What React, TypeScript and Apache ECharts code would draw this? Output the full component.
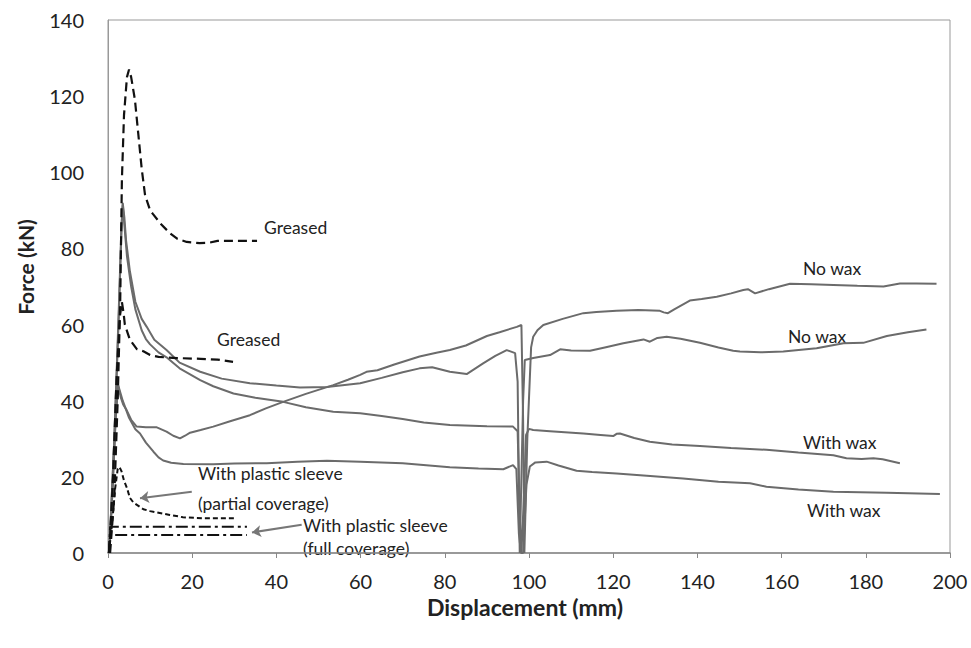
import React, { useEffect, useRef } from "react";
import * as echarts from "echarts";

// [displacement (mm), force (kN)]
const greasedHigh: number[][] = [
  [0.5, 0], [1.5, 15], [2.3, 40], [2.9, 66], [3.3, 98], [3.8, 115], [4.5, 125], [5, 127], [5.5, 125],
  [6.4, 119], [7.2, 110], [8, 101], [8.8, 94], [10, 90], [10.7, 89], [12.5, 86.5], [14.7, 84],
  [16.5, 82.5], [18.7, 81.7], [21.8, 81.4], [24, 81.5], [26, 82], [30, 82], [35.4, 82],
];
const greasedLow: number[][] = [
  [0.3, 0], [1.2, 20], [2, 45], [2.8, 62], [3.3, 66], [3.7, 63], [4, 60], [5.2, 56], [6.9, 53.5],
  [8.4, 53], [10, 52], [12, 51.5], [16.4, 51.2], [22, 51], [26, 50.8], [29.7, 50.2],
];
const sleevePartial: number[][] = [
  [0.2, 0], [1, 8], [1.7, 17], [2.3, 22], [2.7, 22.6], [3.2, 21.5], [3.8, 19], [4.5, 17.1], [5.2, 14.5],
  [6, 13.3], [8.4, 11.5], [10, 11], [14.7, 10], [17.8, 9.4], [22.6, 9.1], [30.2, 9.1],
];
const sleeveFullA: number[][] = [[0.2, 0], [0.5, 6.9], [33, 6.9]];
const sleeveFullB: number[][] = [[0.2, 0], [0.5, 4.7], [33, 4.7]];

const noWaxHigh: number[][] = [
  [0.3, 0], [1, 15], [1.8, 35], [2.4, 44.1], [3, 41], [3.6, 39], [4.4, 37.6], [5.5, 35], [6.8, 33.2],
  [9, 33], [11.6, 33], [13.9, 31.9], [15.5, 30.8], [17.1, 30.1], [18.3, 30.8], [19.5, 31.6], [22, 32.3],
  [25, 33.2], [29, 34.6], [33.7, 36.2], [37.5, 38], [41.6, 39.7], [47, 41.8], [53.5, 44.1], [57, 45.5],
  [59.9, 46.8], [61.4, 47.6], [64, 48], [68, 49.5], [74, 51.6], [78, 52.6], [81.2, 53.3], [85, 54.5],
  [90, 57], [93, 58], [97.1, 59.4], [98.2, 59.9], [98.6, 35], [98.9, 0], [99.6, 30], [100.5, 54],
  [101, 56.8], [102, 58.5], [103.4, 59.9], [108, 61.5], [112.9, 63], [116, 63.3], [120.8, 63.6],
  [126, 63.8], [131.1, 63.6], [132, 63.2], [133, 63], [134.5, 64], [138.2, 66.3], [141, 66.7],
  [144.6, 67.3], [148, 68.2], [150.9, 69.1], [152, 69.3], [153.7, 68.2], [157, 69.3], [162, 70.7],
  [167, 70.6], [172.3, 70.4], [178, 70.2], [184.2, 70], [188.1, 70.8], [192, 70.8], [196.8, 70.7],
];
const noWaxLow: number[][] = [
  [0.3, 0], [1.5, 30], [2.5, 60], [3.2, 85], [3.5, 92], [3.9, 88], [4.3, 82], [5.2, 74], [6.5, 66],
  [8, 61.5], [9.2, 59.4], [11, 56], [13.9, 53.3], [17, 50], [21.9, 47.6], [27, 45.8], [33.7, 44.6],
  [40, 44], [45.6, 43.5], [52, 43.6], [59.9, 44.6], [65, 46], [70, 47.5], [74, 48.5], [77, 48.8],
  [81.2, 47.6], [85.2, 47], [89.1, 49.8], [92, 51.8], [94.7, 53.3], [96.7, 52.5], [97.3, 45], [97.8, 0],
  [98.6, 40], [99, 50.7], [101, 51.2], [105, 52], [107.4, 53.5], [110, 53.2], [114.5, 53.1], [118, 54],
  [122.4, 55.1], [127.2, 56.1], [128.7, 55.5], [130.5, 56.5], [132.7, 56.8], [136, 56.3], [140.6, 55.2],
  [145, 54], [148.5, 53.1], [150.1, 52.9], [155, 52.7], [160.4, 52.9], [168.3, 53.8], [174.7, 55.1],
  [179.4, 55.2], [185, 57], [190, 58], [194.4, 58.7],
];
const withWaxHigh: number[][] = [
  [0.3, 0], [1.5, 30], [2.5, 62], [3.2, 86], [3.5, 91.5], [3.9, 86], [4.5, 78], [5.5, 70], [6.5, 64],
  [8, 58.5], [9, 56.2], [10, 54.8], [12, 52.7], [13.9, 51.4], [17, 48.5], [21.9, 45.4], [25, 43.8], [29.8, 41.9],
  [35, 40.8], [41.6, 39.7], [47, 38.3], [53.5, 37.1], [59.9, 36.7], [65, 36], [70, 35.2], [75, 34.3],
  [81.2, 33.6], [90, 33.3], [96.2, 33.2], [97.3, 32], [97.8, 10], [98.2, 0], [98.8, 15], [99.3, 31],
  [100, 32.6], [101, 32.3], [105, 32], [112.9, 31.4], [117, 31], [120, 30.7], [120.8, 31.3],
  [121.6, 31.4], [125, 30.2], [128.7, 29.2], [134, 28.5], [140.6, 28.1], [148, 27.6], [156.4, 27.1],
  [164, 26.4], [172.3, 25.7], [175.4, 24.9], [179, 24.7], [181.8, 24.9], [184, 24.6], [188.1, 23.6],
];
const withWaxLow: number[][] = [
  [0.3, 0], [1, 15], [1.8, 35], [2.4, 44.1], [3.5, 40], [5, 35.5], [6.5, 32.5], [7.6, 31.4], [9, 29],
  [10.8, 26.6], [12, 25.1], [13.1, 24.3], [15, 23.7], [17.9, 23.4], [25, 23.3], [30, 23.5], [37.7, 23.6],
  [45, 24], [52, 24.2], [59.9, 24], [70, 23.6], [81.2, 22.5], [88, 22.2], [93.9, 22], [96.2, 23.1],
  [97, 22], [97.6, 5], [98.1, 0], [98.6, 0], [99.4, 18], [100.2, 22.7], [101.5, 23.8], [104.2, 24],
  [107, 23], [111.3, 21.6], [115, 21.3], [120.8, 20.9], [128, 20.3], [136.6, 19.6], [145, 18.7],
  [152.5, 18.3], [156.4, 17.4], [164, 16.7], [172.3, 16.1], [185, 15.8], [197.6, 15.5],
];

// arrows [from, to]
const arrowPartial: number[][] = [[19.9, 16.1], [7.6, 14.4]];
const arrowFull: number[][] = [[46, 7.4], [34.2, 5.4]];

const xTicks = { min: 0, max: 200, interval: 20 };
const yTicks = { min: 0, max: 140, interval: 20 };

const FONT = "Lato, 'Open Sans', sans-serif";
const TXT = "#222";
const GREY = "#6b6b6b";

export default function App() {
  const ref = useRef<HTMLDivElement>(null);
  useEffect(() => {
    if (!ref.current) return;
    const chart = echarts.init(ref.current, undefined, { renderer: "svg" });
    const solid = (name: string, data: number[][]) => ({
      name, type: "line", data, showSymbol: false, symbol: "none", smooth: false, z: 2,
      lineStyle: { color: GREY, width: 2 },
    });
    const dashed = (name: string, data: number[][], type: any, width: number) => ({
      name, type: "line", data, showSymbol: false, symbol: "none", z: 3,
      lineStyle: { color: "#111", width, type },
    });
    const label = (text: string, x: number, y: number) => ({
      type: "text", x, y,
      style: { text, fill: TXT, font: `17.5px ${FONT}`, align: "left", verticalAlign: "middle" },
    });
    chart.setOption({
      animation: false,
      backgroundColor: "#fff",
      grid: { left: 108, right: 21, top: 20, bottom: 95, show: true, borderColor: "#999", borderWidth: 1 },
      xAxis: {
        type: "value", ...xTicks,
        axisLine: { show: true, lineStyle: { color: "#888", width: 1.5 } },
        axisTick: { show: true, inside: false, length: 5, lineStyle: { color: "#888" } },
        axisLabel: { color: TXT, fontSize: 20, fontFamily: FONT, margin: 18 },
        splitLine: { show: false },
      },
      yAxis: {
        type: "value", ...yTicks,
        axisLine: { show: true, lineStyle: { color: "#999" } },
        axisTick: { show: false },
        axisLabel: { color: TXT, fontSize: 20, fontFamily: FONT, margin: 24 },
        splitLine: { show: false },
      },
      series: [
        solid("No wax A", noWaxHigh),
        solid("No wax B", noWaxLow),
        solid("With wax A", withWaxHigh),
        solid("With wax B", withWaxLow),
        dashed("Greased A", greasedHigh, [9, 5], 2.2),
        dashed("Greased B", greasedLow, [9, 5], 2.2),
        dashed("Sleeve partial", sleevePartial, [5, 3], 2),
        dashed("Sleeve full A", sleeveFullA, [12, 4, 3, 4], 2),
        dashed("Sleeve full B", sleeveFullB, [12, 4, 3, 4], 2),
        {
          name: "arrows", type: "line", data: [], z: 4,
          markLine: {
            silent: true, symbol: ["none", "arrow"], symbolSize: 9,
            label: { show: false },
            lineStyle: { color: "#777", width: 2, type: "solid" },
            data: [
              [{ coord: arrowPartial[0] }, { coord: arrowPartial[1] }],
              [{ coord: arrowFull[0] }, { coord: arrowFull[1] }],
            ],
          },
        },
      ],
      graphic: [
        label("Greased", 264, 227),
        label("Greased", 217, 339),
        label("No wax", 803, 268),
        label("No wax", 788, 336),
        label("With wax", 803, 442),
        label("With wax", 807, 510),
        label("With plastic sleeve", 198, 473),
        label("(partial coverage)", 198, 503),
        label("With plastic sleeve", 303, 525),
        label("(full coverage)", 303, 548),
        {
          type: "text", x: 25, y: 267, rotation: Math.PI / 2,
          style: { text: "Force (kN)", fill: TXT, font: `bold 21px ${FONT}`, align: "center", verticalAlign: "middle" },
        },
        {
          type: "text", x: 525, y: 607,
          style: { text: "Displacement (mm)", fill: TXT, font: `bold 23px ${FONT}`, align: "center", verticalAlign: "middle" },
        },
      ],
    });
    return () => chart.dispose();
  }, []);
  return <div ref={ref} style={{ width: 971, height: 648, position: "absolute", left: 0, top: 0 }} />;
}
